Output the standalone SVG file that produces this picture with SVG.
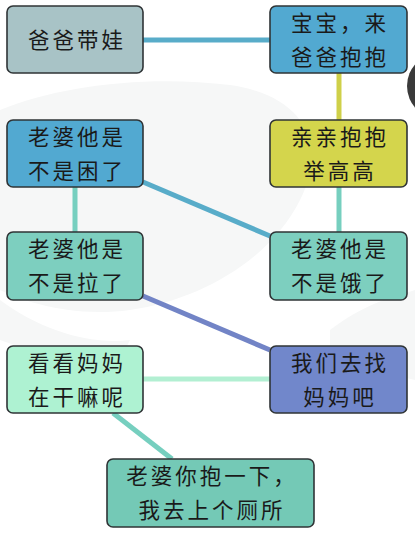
<svg xmlns="http://www.w3.org/2000/svg" width="415" height="533" viewBox="0 0 415 533">
<style>
.n{stroke:#2f3436;stroke-width:1.6}
.t{font-family:"Noto Sans CJK SC","Noto Sans",sans-serif;font-size:21.5px;fill:#1a1a1a;text-anchor:middle;letter-spacing:3px}
.c{fill:none;stroke-width:5;stroke-linecap:butt}
.bg{fill:#f6f7f7}
</style>
<rect width="415" height="533" fill="#ffffff"/>
<g id="background">
<path class="bg" d="M0,110 C60,85 150,75 230,85 C300,95 330,140 300,200 C270,260 200,300 130,310 C70,318 20,300 0,290 Z"/>
<path class="bg" d="M0,300 C40,330 90,345 130,340 L120,360 C70,365 30,350 0,340 Z"/>
<path class="bg" d="M330,330 C370,300 400,295 415,290 L415,380 C390,375 360,360 330,350 Z"/>
<circle cx="440" cy="86" r="33" fill="#3a3a3a"/>
</g>
<g id="connectors">
<line class="c" x1="143" y1="40" x2="270" y2="40" stroke="#58acc9"/>
<line class="c" x1="339" y1="73" x2="339" y2="120" stroke="#cfd049"/>
<line class="c" x1="75" y1="187" x2="75" y2="232" stroke="#76cfbf"/>
<line class="c" x1="143" y1="182" x2="270" y2="236" stroke="#58acc9"/>
<line class="c" x1="339" y1="187" x2="339" y2="232" stroke="#76cfbf"/>
<line class="c" x1="143" y1="296" x2="270" y2="350" stroke="#7284c6"/>
<line class="c" x1="143" y1="379" x2="270" y2="379" stroke="#b2efd2"/>
<line class="c" x1="113" y1="413" x2="172" y2="459" stroke="#76cfbf"/>
</g>
<g id="node1">
<rect class="n" x="7" y="6" width="136" height="67" rx="6" fill="#a8c3c6"/>
<text class="t" x="77" y="47.5">爸爸带娃</text>
</g>
<g id="node2">
<rect class="n" x="270" y="6" width="137" height="67" rx="6" fill="#52a9d1"/>
<text class="t" x="340" y="31">宝宝，来</text>
<text class="t" x="340" y="65">爸爸抱抱</text>
</g>
<g id="node3">
<rect class="n" x="7" y="120" width="136" height="67" rx="6" fill="#52a9d1"/>
<text class="t" x="77" y="145">老婆他是</text>
<text class="t" x="77" y="179">不是困了</text>
</g>
<g id="node4">
<rect class="n" x="270" y="120" width="137" height="67" rx="6" fill="#d4d54c"/>
<text class="t" x="340" y="145">亲亲抱抱</text>
<text class="t" x="340" y="179">举高高</text>
</g>
<g id="node5">
<rect class="n" x="7" y="232" width="136" height="68" rx="6" fill="#7dcfbf"/>
<text class="t" x="77" y="257">老婆他是</text>
<text class="t" x="77" y="291">不是拉了</text>
</g>
<g id="node6">
<rect class="n" x="270" y="232" width="137" height="68" rx="6" fill="#7dcfbf"/>
<text class="t" x="340" y="257">老婆他是</text>
<text class="t" x="340" y="291">不是饿了</text>
</g>
<g id="node7">
<rect class="n" x="7" y="346" width="136" height="67" rx="6" fill="#aef2d2"/>
<text class="t" x="77" y="371">看看妈妈</text>
<text class="t" x="77" y="405">在干嘛呢</text>
</g>
<g id="node8">
<rect class="n" x="270" y="346" width="137" height="67" rx="6" fill="#7187cb"/>
<text class="t" x="340" y="371">我们去找</text>
<text class="t" x="340" y="405">妈妈吧</text>
</g>
<g id="node9">
<rect class="n" x="107" y="459" width="207" height="68" rx="6" fill="#74c9b6"/>
<text class="t" x="212" y="484">老婆你抱一下，</text>
<text class="t" x="212" y="518">我去上个厕所</text>
</g>
</svg>
